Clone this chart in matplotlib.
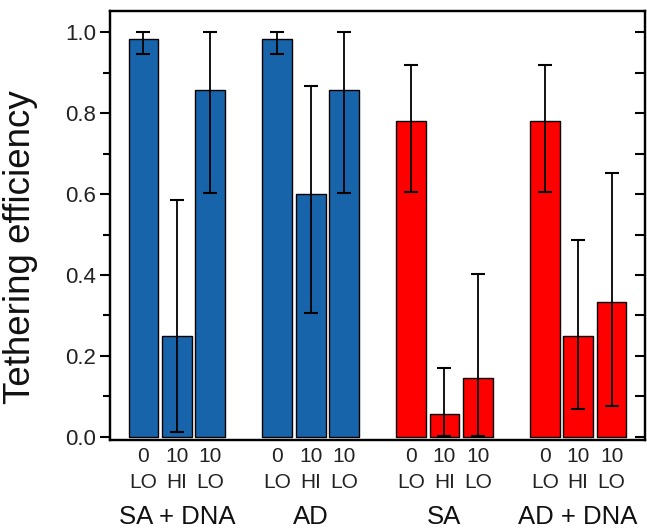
import matplotlib
matplotlib.use("Agg")
import matplotlib.pyplot as plt
import matplotlib.transforms as mtransforms
import numpy as np

plt.rcParams['font.family'] = ['Liberation Sans', 'DejaVu Sans']

# Tethering efficiency per condition (4 groups x 3 conditions)
groups = ["SA + DNA", "AD", "SA", "AD + DNA"]
conditions = ["0\nLO", "10\nHI", "10\nLO"]
group_colors = ["#1864aa", "#1864aa", "#ff0000", "#ff0000"]

efficiency = [0.984, 0.25, 0.857,
              0.984, 0.60, 0.857,
              0.78, 0.057, 0.145,
              0.78, 0.25, 0.334]
err_upper_end = [1.0, 0.585, 1.0,
                 1.0, 0.867, 1.0,
                 0.918, 0.171, 0.403,
                 0.918, 0.487, 0.651]
err_lower_end = [0.945, 0.011, 0.602,
                 0.945, 0.306, 0.602,
                 0.606, 0.002, 0.002,
                 0.606, 0.07, 0.077]

vals = np.array(efficiency)
yerr = np.array([vals - np.array(err_lower_end),
                 np.array(err_upper_end) - vals])

# bar positions: three bars per group with one empty slot between groups
x = np.array([g * 4 + i for g in range(len(groups)) for i in range(len(conditions))])
colors = [group_colors[g] for g in range(len(groups)) for _ in conditions]
labels = [c for _ in groups for c in conditions]

fig = plt.figure(figsize=(6.47, 5.29), dpi=100)
ax = fig.add_axes([0.170, 0.168, 0.827, 0.811])

ax.bar(x, vals, width=0.89, color=colors, edgecolor='black', linewidth=1.0,
       yerr=yerr, error_kw=dict(ecolor='black', elinewidth=1.3, capsize=5, capthick=1.5),
       zorder=2)

ax.set_xlim(-1, 15)
ax.set_ylim(-0.008, 1.052)
ax.set_xticks(x)
ax.set_xticklabels(labels, fontsize=15, color='#222222', linespacing=1.45)
ax.tick_params(axis='x', length=0, pad=5)

ax.set_yticks(np.arange(0, 1.01, 0.2))
ax.set_yticklabels([f"{v:.1f}" for v in np.arange(0, 1.01, 0.2)], fontsize=16, color='#222222')
ax.set_yticks(np.arange(0.1, 1.0, 0.2), minor=True)
ax.tick_params(axis='y', which='major', direction='out', length=7, width=1.5, pad=3)
ax.tick_params(axis='y', which='minor', direction='out', length=5, width=1.5)

for s in ax.spines.values():
    s.set_linewidth(1.6)

# y-axis title, placed in figure coordinates
fig.text(21 / 647, 1 - 247 / 529, "Tethering efficiency", rotation=90,
         ha='center', va='center', fontsize=26.5, color='#111111')

# inward ticks on the right side
ax2 = ax.twinx()
ax2.set_ylim(ax.get_ylim())
ax2.set_yticks(np.arange(0, 1.01, 0.1))
ax2.tick_params(axis='y', direction='in', length=7, width=1.5, labelright=False)
for s in ax2.spines.values():
    s.set_linewidth(1.6)

# group names below the condition labels
trans = mtransforms.blended_transform_factory(ax.transData, fig.transFigure)
for g, name in enumerate(groups):
    ax.text(g * 4 + 1, 1 - 524 / 529, name, transform=trans, ha='center', va='baseline',
            fontsize=18.5, color='#111111')

fig.savefig("out.png", dpi=100)
